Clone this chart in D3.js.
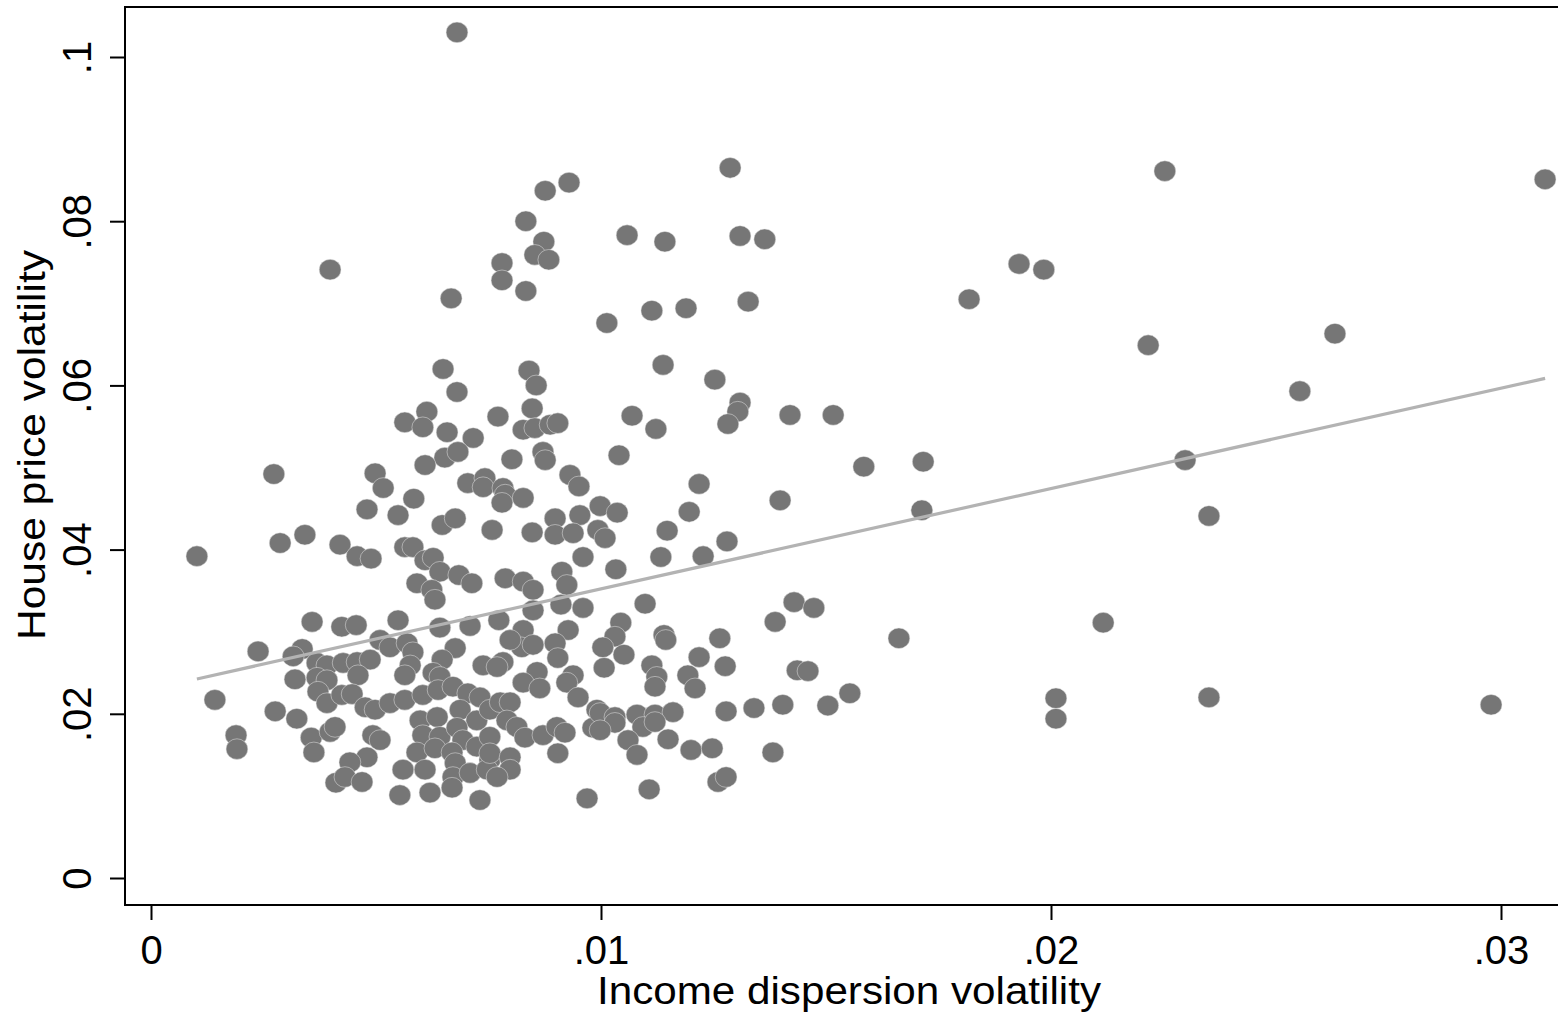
<!DOCTYPE html>
<html>
<head>
<meta charset="utf-8">
<script src="https://cdn.jsdelivr.net/npm/d3@7"></script>
<style>
  body { margin: 0; background: #fff; }
  text { font-family: "Liberation Sans", Arial, sans-serif; fill: #000; }
</style>
</head>
<body>
<div id="chart"></div>
<script>
// income dispersion volatility (x) and house price volatility (y), one entry per point
var incomeVol = [
  0.00680, 0.01287, 0.02253, 0.03098, 0.00929, 0.00876, 0.00833, 0.01058, 0.01309, 0.01142,
  0.01364, 0.00873, 0.00853, 0.00884, 0.00780, 0.00780, 0.00833, 0.01929, 0.01984, 0.00398,
  0.00667, 0.01327, 0.01818, 0.01113, 0.01189, 0.01013, 0.02631, 0.02216, 0.00649, 0.01138,
  0.00840, 0.01253, 0.00856, 0.00680, 0.02553, 0.01309, 0.01304, 0.01420, 0.01516, 0.00771,
  0.00613, 0.00564, 0.00847, 0.01282, 0.01069, 0.00604, 0.00827, 0.00853, 0.00887, 0.00904,
  0.01122, 0.00658, 0.00716, 0.00653, 0.00682, 0.00609, 0.00802, 0.00871, 0.00876, 0.01040,
  0.01584, 0.01716, 0.00273, 0.00498, 0.00931, 0.02298, 0.00704, 0.00742, 0.00738, 0.00516,
  0.00584, 0.00782, 0.00787, 0.00951, 0.00827, 0.00780, 0.01218, 0.00480, 0.00549, 0.00998,
  0.01036, 0.00898, 0.00953, 0.01196, 0.01398, 0.01713, 0.02351, 0.00647, 0.00676, 0.00758,
  0.00847, 0.00898, 0.00938, 0.01147, 0.00993, 0.01009, 0.00342, 0.00287, 0.00420, 0.01280,
  0.00102, 0.00458, 0.00489, 0.00564, 0.00582, 0.00960, 0.01133, 0.01227, 0.00609, 0.00627,
  0.00642, 0.00684, 0.00713, 0.00591, 0.00624, 0.00631, 0.00787, 0.00827, 0.00849, 0.00913,
  0.00924, 0.01033, 0.01098, 0.00358, 0.00549, 0.00424, 0.00456, 0.01429, 0.01473, 0.01387,
  0.00849, 0.00911, 0.00960, 0.00642, 0.00709, 0.00773, 0.00827, 0.00927, 0.01044, 0.01662,
  0.01264, 0.01140, 0.01144, 0.02116, 0.00238, 0.00336, 0.00316, 0.00898, 0.00824, 0.00849,
  0.00798, 0.01031, 0.01004, 0.00369, 0.00391, 0.00427, 0.00458, 0.00487, 0.00320, 0.00369,
  0.00391, 0.00460, 0.00371, 0.00391, 0.00424, 0.00447, 0.00476, 0.00498, 0.00142, 0.00276,
  0.00324, 0.00189, 0.00191, 0.00356, 0.00362, 0.00398, 0.00409, 0.00493, 0.00480, 0.00442,
  0.00411, 0.00431, 0.00469, 0.00509, 0.00531, 0.00569, 0.00582, 0.00576, 0.00676, 0.00647,
  0.00738, 0.00627, 0.00564, 0.00642, 0.00531, 0.00564, 0.00604, 0.00638, 0.00671, 0.00704,
  0.00731, 0.00598, 0.00636, 0.00687, 0.00724, 0.00753, 0.00509, 0.00604, 0.00642, 0.00680,
  0.00693, 0.00591, 0.00631, 0.00669, 0.00724, 0.00753, 0.00560, 0.00609, 0.00676, 0.00671,
  0.00709, 0.00747, 0.00553, 0.00620, 0.00669, 0.00731, 0.00904, 0.00782, 0.00769, 0.00858,
  0.00938, 0.00827, 0.00864, 0.00924, 0.00949, 0.00776, 0.00798, 0.00991, 0.00982, 0.00791,
  0.00813, 0.00831, 0.00871, 0.00902, 0.00920, 0.00904, 0.00753, 0.00753, 0.00798, 0.00798,
  0.00769, 0.00969, 0.01051, 0.01218, 0.01276, 0.01007, 0.01113, 0.01124, 0.01120, 0.01193,
  0.01209, 0.01436, 0.01460, 0.01553, 0.01504, 0.01404, 0.01340, 0.01278, 0.00998, 0.01031,
  0.01031, 0.00998, 0.01080, 0.01120, 0.01160, 0.01093, 0.01120, 0.01149, 0.01060, 0.01080,
  0.01200, 0.01247, 0.01382, 0.01260, 0.01278, 0.01107, 0.02011, 0.02011, 0.02351, 0.02978
];

var houseVol = [
  0.1030, 0.0865, 0.0861, 0.0851, 0.0847, 0.0837, 0.0800, 0.0783, 0.0782, 0.0775,
  0.0778, 0.0775, 0.0759, 0.0753, 0.0749, 0.0728, 0.0715, 0.0748, 0.0741, 0.0741,
  0.0706, 0.0702, 0.0705, 0.0691, 0.0694, 0.0676, 0.0663, 0.0649, 0.0620, 0.0625,
  0.0618, 0.0607, 0.0600, 0.0592, 0.0593, 0.0579, 0.0568, 0.0564, 0.0564, 0.0562,
  0.0568, 0.0555, 0.0572, 0.0553, 0.0563, 0.0549, 0.0546, 0.0548, 0.0552, 0.0554,
  0.0547, 0.0543, 0.0536, 0.0512, 0.0519, 0.0503, 0.0510, 0.0519, 0.0509, 0.0515,
  0.0501, 0.0507, 0.0492, 0.0493, 0.0491, 0.0509, 0.0481, 0.0487, 0.0476, 0.0475,
  0.0462, 0.0475, 0.0467, 0.0477, 0.0463, 0.0457, 0.0480, 0.0449, 0.0442, 0.0453,
  0.0445, 0.0438, 0.0442, 0.0446, 0.0460, 0.0448, 0.0441, 0.0430, 0.0438, 0.0424,
  0.0421, 0.0418, 0.0420, 0.0423, 0.0424, 0.0414, 0.0418, 0.0408, 0.0406, 0.0410,
  0.0392, 0.0392, 0.0389, 0.0403, 0.0403, 0.0391, 0.0391, 0.0392, 0.0387, 0.0390,
  0.0373, 0.0369, 0.0359, 0.0359, 0.0351, 0.0339, 0.0365, 0.0361, 0.0351, 0.0373,
  0.0357, 0.0376, 0.0334, 0.0312, 0.0314, 0.0306, 0.0308, 0.0336, 0.0329, 0.0312,
  0.0326, 0.0333, 0.0329, 0.0305, 0.0307, 0.0314, 0.0302, 0.0302, 0.0311, 0.0292,
  0.0292, 0.0296, 0.0290, 0.0311, 0.0276, 0.0279, 0.0270, 0.0286, 0.0281, 0.0284,
  0.0290, 0.0294, 0.0281, 0.0262, 0.0259, 0.0262, 0.0263, 0.0266, 0.0242, 0.0244,
  0.0241, 0.0247, 0.0227, 0.0213, 0.0223, 0.0224, 0.0208, 0.0205, 0.0217, 0.0203,
  0.0194, 0.0174, 0.0157, 0.0171, 0.0153, 0.0178, 0.0184, 0.0174, 0.0147, 0.0141,
  0.0116, 0.0123, 0.0117, 0.0290, 0.0281, 0.0286, 0.0275, 0.0259, 0.0280, 0.0266,
  0.0259, 0.0250, 0.0247, 0.0245, 0.0213, 0.0217, 0.0223, 0.0229, 0.0233, 0.0225,
  0.0220, 0.0192, 0.0196, 0.0205, 0.0192, 0.0205, 0.0168, 0.0174, 0.0172, 0.0183,
  0.0168, 0.0153, 0.0158, 0.0153, 0.0160, 0.0144, 0.0132, 0.0132, 0.0140, 0.0123,
  0.0128, 0.0132, 0.0101, 0.0104, 0.0110, 0.0095, 0.0268, 0.0263, 0.0257, 0.0251,
  0.0247, 0.0238, 0.0231, 0.0238, 0.0220, 0.0214, 0.0214, 0.0205, 0.0183, 0.0192,
  0.0184, 0.0171, 0.0174, 0.0184, 0.0177, 0.0152, 0.0172, 0.0152, 0.0147, 0.0132,
  0.0123, 0.0097, 0.0272, 0.0269, 0.0258, 0.0256, 0.0259, 0.0245, 0.0233, 0.0247,
  0.0231, 0.0253, 0.0252, 0.0225, 0.0210, 0.0211, 0.0207, 0.0203, 0.0201, 0.0196,
  0.0189, 0.0180, 0.0199, 0.0199, 0.0202, 0.0184, 0.0190, 0.0169, 0.0168, 0.0150,
  0.0156, 0.0158, 0.0153, 0.0117, 0.0123, 0.0108, 0.0219, 0.0194, 0.0220, 0.0211
];

var xTicks = [0, 0.01, 0.02, 0.03]
  , xTickLabels = ['0', '.01', '.02', '.03']
  , yTicks = [0, 0.02, 0.04, 0.06, 0.08, 0.1]
  , yTickLabels = ['0', '.02', '.04', '.06', '.08', '.1'];

// linear fit
var fitIntercept = 0.0230
  , fitSlope = 1.222;

var width = 1558, height = 1017
  , frame = { left: 125, top: 7, right: 1562, bottom: 905 };

var data = incomeVol.map(function(x, i) { return { x: x, y: houseVol[i] }; });

var x = d3.scaleLinear().domain([0, 0.03]).range([151, 1501]);
var y = d3.scaleLinear().domain([0, 0.1]).range([878, 57]);

var svg = d3.select('#chart').append('svg')
  .attr('width', width)
  .attr('height', height);

// plot region outline
svg.append('rect')
  .attr('x', frame.left)
  .attr('y', frame.top)
  .attr('width', frame.right - frame.left)
  .attr('height', frame.bottom - frame.top)
  .style('fill', 'none')
  .style('stroke', '#000')
  .style('stroke-width', 2);

svg.append('g').selectAll('ellipse')
  .data(data)
  .enter().append('ellipse')
  .attr('cx', function(d) { return x(d.x); })
  .attr('cy', function(d) { return y(d.y); })
  .attr('rx', 10.9)
  .attr('ry', 10.3)
  .style('fill', '#767676')
  .style('stroke', '#e6e6e6')
  .style('stroke-width', 0.5);

var fitX = d3.extent(incomeVol);
svg.append('path')
  .datum(fitX)
  .attr('d', d3.line()
    .x(function(d) { return x(d); })
    .y(function(d) { return y(fitIntercept + fitSlope * d); }))
  .style('fill', 'none')
  .style('stroke', '#b3b3b3')
  .style('stroke-width', 3.2);

// x axis
var xAxis = svg.append('g')
  .attr('transform', 'translate(0,' + frame.bottom + ')')
  .call(d3.axisBottom(x)
    .tickValues(xTicks)
    .tickSize(15)
    .tickFormat(function(d, i) { return xTickLabels[i]; }));
xAxis.select('.domain').remove();
xAxis.selectAll('line').style('stroke', '#000').style('stroke-width', 2);
xAxis.selectAll('text')
  .attr('y', 59)
  .attr('dy', 0)
  .style('font-size', '40px')
  .style('font-family', '"Liberation Sans", Arial, sans-serif');

// y axis, labels turned on their side
var yAxis = svg.append('g')
  .attr('transform', 'translate(' + frame.left + ',0)')
  .call(d3.axisLeft(y)
    .tickValues(yTicks)
    .tickSize(15)
    .tickFormat(function(d, i) { return yTickLabels[i]; }));
yAxis.select('.domain').remove();
yAxis.selectAll('line').style('stroke', '#000').style('stroke-width', 2);
yAxis.selectAll('text')
  .attr('x', 0)
  .attr('dy', 0)
  .attr('transform', 'translate(-34,0) rotate(-90)')
  .style('text-anchor', 'middle')
  .style('font-size', '40px')
  .style('font-family', '"Liberation Sans", Arial, sans-serif');

svg.append('text')
  .attr('x', 849)
  .attr('y', 1004)
  .attr('text-anchor', 'middle')
  .attr('textLength', 504)
  .attr('lengthAdjust', 'spacingAndGlyphs')
  .style('font-size', '38px')
  .text('Income dispersion volatility');

svg.append('text')
  .attr('transform', 'translate(45,445) rotate(-90)')
  .attr('text-anchor', 'middle')
  .attr('textLength', 390)
  .attr('lengthAdjust', 'spacingAndGlyphs')
  .style('font-size', '38px')
  .text('House price volatility');
</script>
</body>
</html>
